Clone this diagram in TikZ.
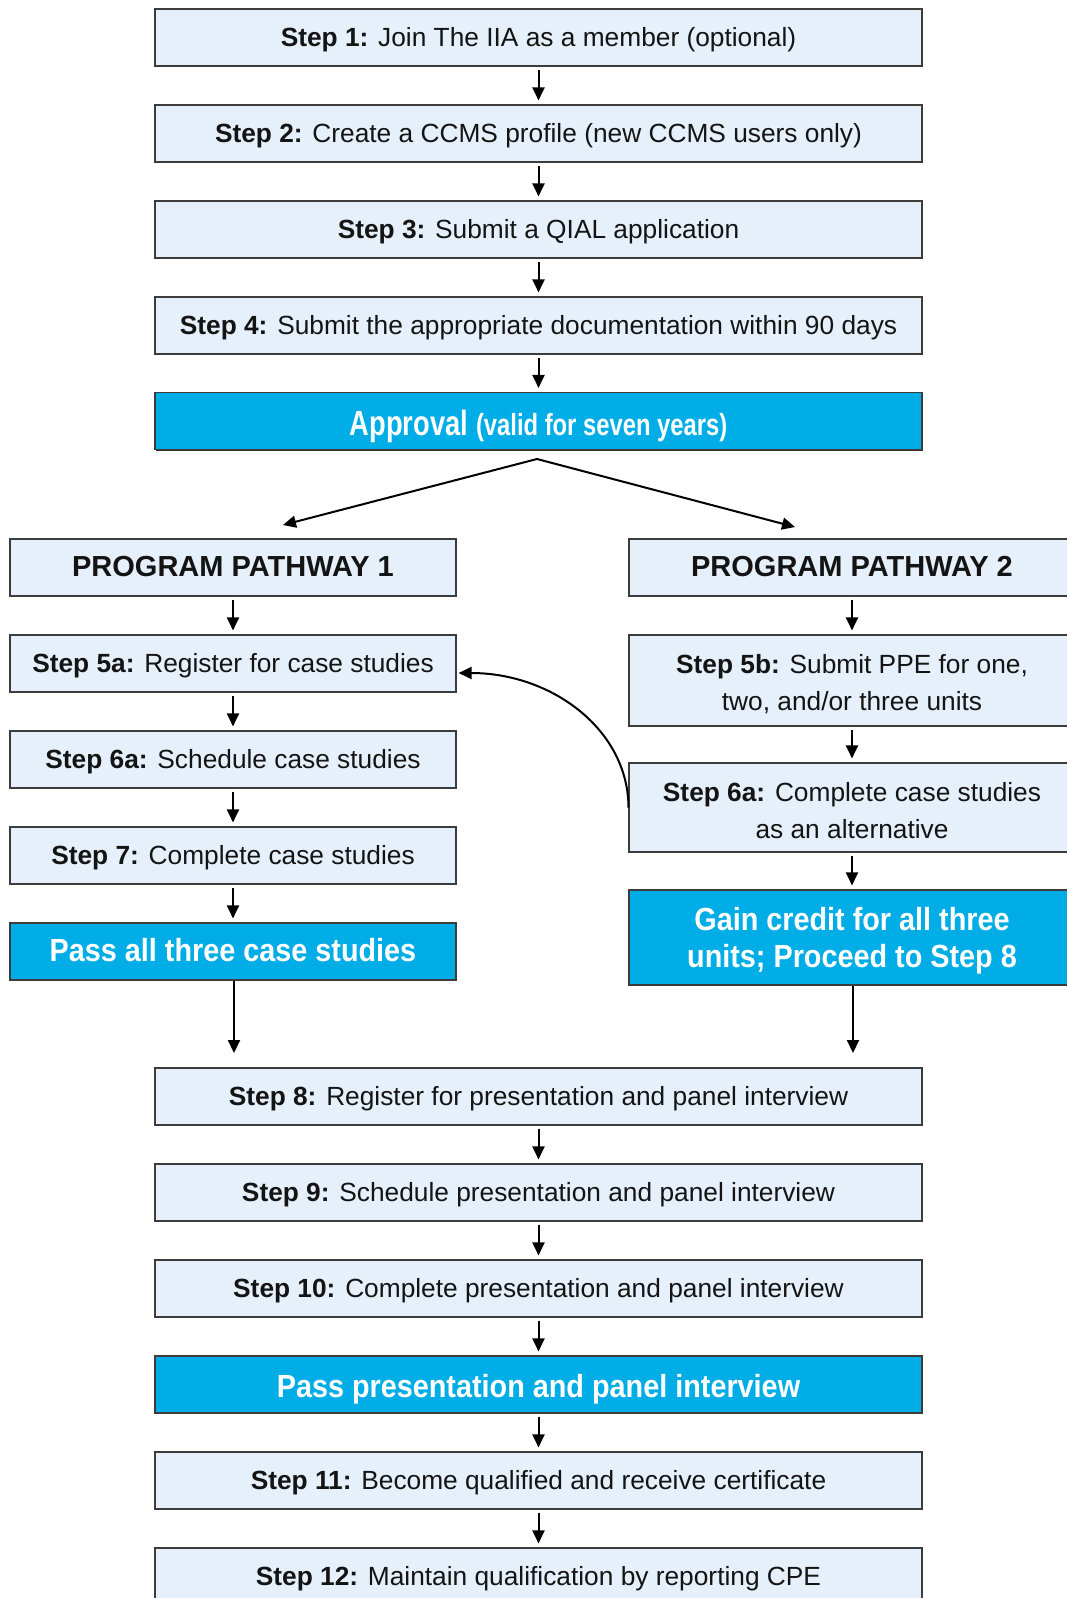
\documentclass[tikz,border=0pt]{standalone}
\usepackage{fontspec}
\setmainfont{Liberation Sans}
\newfontfamily\condfont[FakeStretch=0.9]{Liberation Sans}
\newfontfamily\apfont[FakeStretch=0.78]{Liberation Sans}
\usetikzlibrary{arrows.meta,shadows}
\definecolor{lightbox}{RGB}{230,240,250}
\definecolor{cyanbox}{RGB}{0,173,230}
\definecolor{edge}{RGB}{60,60,60}
\definecolor{txt}{RGB}{20,20,20}
\newcommand\dnlines[2]{\raisebox{-#1}[\height][\depth]{\begin{tabular}{@{}c@{}}#2\end{tabular}}}
\begin{document}
\begin{tikzpicture}[x=1pt,y=-1pt,
  base/.style={draw=edge, line width=1.1pt, inner sep=0pt, align=center, minimum height=57pt, text=txt,
    drop shadow={shadow xshift=0.6pt, shadow yshift=-1.2pt, fill=black!80, opacity=1}},
  oneline/.style={text height=21pt, text depth=3pt},
  mainbox/.style={base, oneline, fill=lightbox, minimum width=767pt, font=\fontsize{26.3}{37}\selectfont},
  sidebox/.style={base, fill=lightbox, minimum width=446pt, font=\fontsize{26.3}{37}\selectfont},
  sideone/.style={sidebox, oneline},
  headbox/.style={sidebox, oneline, font=\fontsize{29}{35}\selectfont\bfseries},
  hilite/.style={fill=cyanbox, text=white, font=\condfont\bfseries\fontsize{32}{37}\selectfont},
  arr/.style={-{Triangle[length=13pt,width=12pt]}, line width=2pt, shorten <=3pt, shorten >=4pt},
  splitarr/.style={-{Triangle[length=13pt,width=12pt]}, line width=2pt},
]
\fill[white] (0,0) rectangle (1067,1598);
\useasboundingbox (0,0) rectangle (1067,1598);
\clip (0,0) rectangle (1067,1598);

% main column (top)
\node[mainbox] (s1) at (538.5,37.5) {\textbf{Step 1:} Join The IIA as a member (optional)};
\node[mainbox] (s2) at (538.5,133.5) {\textbf{Step 2:} Create a CCMS profile (new CCMS users only)};
\node[mainbox] (s3) at (538.5,229.5) {\textbf{Step 3:} Submit a QIAL application};
\node[mainbox] (s4) at (538.5,325.5) {\textbf{Step 4:} Submit the appropriate documentation within 90 days};
\node[mainbox, hilite, text height=29pt, text depth=0pt] (app) at (538.5,421) {{\apfont\bfseries\fontsize{35}{40}\selectfont Approval} {\apfont\bfseries\fontsize{30.5}{40}\selectfont (valid for seven years)}};

% left pathway
\node[headbox] (p1) at (233,567.5) {PROGRAM PATHWAY 1};
\node[sideone] (l5a) at (233,663.5) {\textbf{Step 5a:} Register for case studies};
\node[sideone] (l6a) at (233,759.5) {\textbf{Step 6a:} Schedule case studies};
\node[sideone] (l7) at (233,855.5) {\textbf{Step 7:} Complete case studies};
\node[sidebox, hilite, text height=22pt, text depth=2pt] (lpass) at (233,951.5) {Pass all three case studies};

% right pathway
\node[headbox] (p2) at (852,567.5) {PROGRAM PATHWAY 2};
\node[sidebox, minimum height=91pt] (r5b) at (852,680.5) {\dnlines{4pt}{\textbf{Step 5b:} Submit PPE for one,\\ two, and/or three units}};
\node[sidebox, minimum height=89pt] (r6a) at (852,807.5) {\dnlines{5pt}{\textbf{Step 6a:} Complete case studies\\ as an alternative}};
\node[sidebox, hilite, minimum height=95pt] (rgain) at (852,937.5) {\dnlines{4pt}{Gain credit for all three\\ units; Proceed to Step 8}};

% main column (bottom)
\node[mainbox] (s8) at (538.5,1096.5) {\textbf{Step 8:} Register for presentation and panel interview};
\node[mainbox] (s9) at (538.5,1192.5) {\textbf{Step 9:} Schedule presentation and panel interview};
\node[mainbox] (s10) at (538.5,1288.5) {\textbf{Step 10:} Complete presentation and panel interview};
\node[mainbox, hilite, text height=25pt, text depth=0pt] (pass2) at (538.5,1384.5) {Pass presentation and panel interview};
\node[mainbox] (s11) at (538.5,1480.5) {\textbf{Step 11:} Become qualified and receive certificate};
\node[mainbox] (s12) at (538.5,1576.5) {\textbf{Step 12:} Maintain qualification by reporting CPE};

% coordinates
\coordinate (apex) at (537,459);
\coordinate (pl) at (283,525);
\coordinate (pr) at (795,527);
\coordinate (cl) at (234,1053);
\coordinate (cr) at (853,1053);

% connectors
\draw[arr] (s1) -- (s2);
\draw[arr] (s2) -- (s3);
\draw[arr] (s3) -- (s4);
\draw[arr] (s4) -- (app);
\draw[splitarr] (apex) -- (pl);
\draw[splitarr] (apex) -- (pr);
\draw[arr] (p1) -- (l5a);
\draw[arr] (l5a) -- (l6a);
\draw[arr] (l6a) -- (l7);
\draw[arr] (l7) -- (lpass);
\draw[arr] (p2) -- (r5b);
\draw[arr] (r5b) -- (r6a);
\draw[arr] (r6a) -- (rgain);
\draw[splitarr] (lpass.south -| cl) -- (cl);
\draw[splitarr] (rgain.south -| cr) -- (cr);
\draw[splitarr] (r6a.west) .. controls +(0,-77) and +(94,0) .. ([xshift=2pt,yshift=-9.5pt]l5a.east);
\draw[arr] (s8) -- (s9);
\draw[arr] (s9) -- (s10);
\draw[arr] (s10) -- (pass2);
\draw[arr] (pass2) -- (s11);
\draw[arr] (s11) -- (s12);
\end{tikzpicture}
\end{document}
